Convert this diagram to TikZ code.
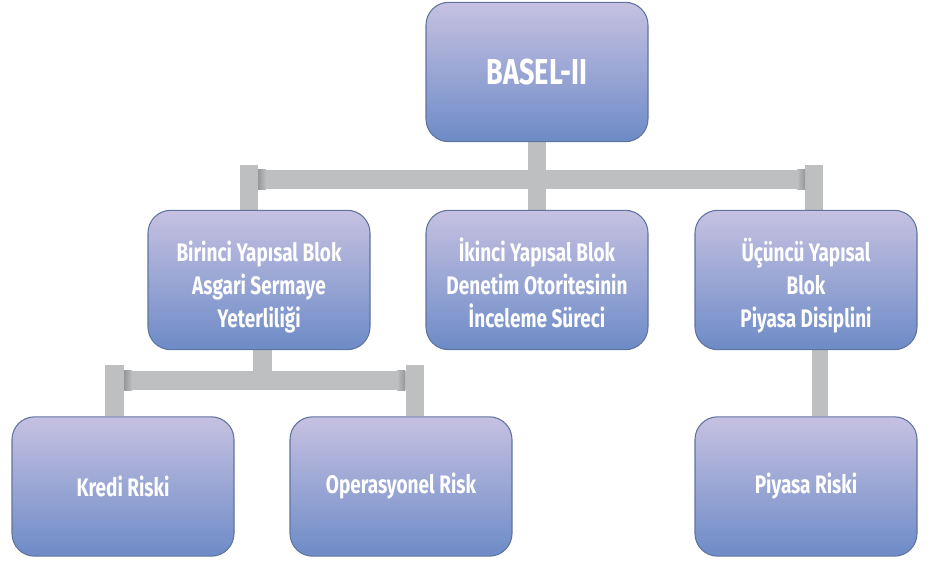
\documentclass[tikz,border=0pt]{standalone}
\usepackage{fontspec}
\setmainfont{Fira Sans}[FakeStretch=0.75]
\usepackage{tikz}
\usetikzlibrary{calc, backgrounds}

\definecolor{boxtop}{HTML}{C6C1E1}
\definecolor{boxbot}{HTML}{6D8BC7}
\definecolor{boxline}{HTML}{60749F}
\definecolor{bargrey}{HTML}{BEBFC1}
\definecolor{bardark}{HTML}{96979A}

\begin{document}
\begin{tikzpicture}[x=0.75pt, y=-0.75pt,
    every node/.style={font=\bfseries\fontsize{19}{24.75}\selectfont, text=white, align=center},
    blok/.style={draw=boxline, line width=0.8pt, rounded corners=17pt,
      top color=boxtop, bottom color=boxbot,
      minimum width=166.5pt, minimum height=104.5pt, inner sep=0pt},
    uclu/.style={blok, text height=75.6pt, text depth=4pt},
    bar/.style={draw=bargrey, line width=13.8pt}]

  \useasboundingbox (0,0) rectangle (932,563);

  \node[blok, font=\bfseries\fontsize{27}{30}\selectfont] (basel) at (537,72) {BASEL-II};

  \node[uclu] (birinci) at (259,280) {Birinci Yapısal Blok\\Asgari Sermaye\\Yeterliliği};
  \node[uclu] (ikinci) at (537,280) {İkinci Yapısal Blok\\Denetim Otoritesinin\\İnceleme Süreci};
  \node[uclu] (ucuncu) at (806,280) {Üçüncü Yapısal\\Blok\\Piyasa Disiplini};

  \node[blok] (kredi) at (123,486.5) {Kredi Riski};
  \node[blok] (operasyonel) at (401,486.5) {Operasyonel Risk};
  \node[blok] (piyasa) at (806,486.5) {Piyasa Riski};

  \coordinate (topbarL) at (249,179.5);
  \coordinate (topbarR) at (814,179.5);
  \coordinate (lowbarL) at (114.5,380.5);
  \coordinate (lowbarR) at (415,380.5);

  \begin{scope}[on background layer]
  % upper tree
  \draw[bar] (basel.south) -- (ikinci.north);
  \draw[bar, line width=14.5pt] (topbarL) -- (topbarR);
  \draw[bar] ($(topbarL)+(0,-14)$) -- (birinci.north -| topbarL);
  \draw[bar] ($(topbarR)+(0,-14)$) -- (ucuncu.north -| topbarR);
  \shade[left color=bardark, right color=bargrey] ($(topbarL)+(9,-9.7)$) rectangle ($(topbarL)+(17,9.7)$);
  \shade[left color=bargrey, right color=bardark] ($(topbarR)+(-17,-9.7)$) rectangle ($(topbarR)+(-9,9.7)$);

  % lower tree
  \draw[bar] ($(birinci.south)+(3.5,0)$) -- ($(lowbarL -| birinci.south)+(3.5,0)$);
  \draw[bar, line width=14.5pt] (lowbarL) -- (lowbarR);
  \draw[bar] ($(lowbarL)+(0,-15.5)$) -- (kredi.north -| lowbarL);
  \draw[bar] ($(lowbarR)+(0,-15.5)$) -- (operasyonel.north -| lowbarR);
  \shade[left color=bardark, right color=bargrey] ($(lowbarL)+(9.5,-9.7)$) rectangle ($(lowbarL)+(17.5,9.7)$);
  \shade[left color=bargrey, right color=bardark] ($(lowbarR)+(-18,-9.7)$) rectangle ($(lowbarR)+(-10,9.7)$);

  \draw[bar, line width=12.5pt] ($(ucuncu.south)+(14,0)$) -- ($(piyasa.north)+(14,0)$);
  \end{scope}
\end{tikzpicture}
\end{document}
